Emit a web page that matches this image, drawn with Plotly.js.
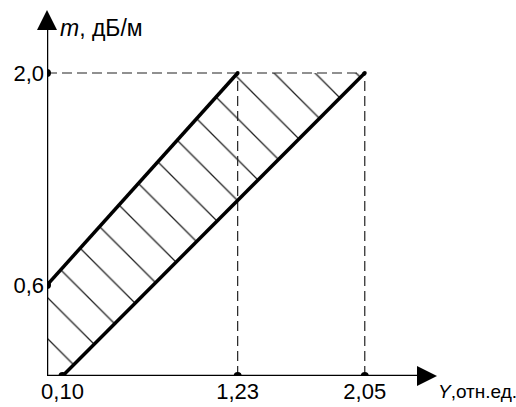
<!DOCTYPE html>
<html>
<head>
<meta charset="utf-8">
<script src="https://cdn.plot.ly/plotly-3.0.1.min.js"></script>
<style>html,body{margin:0;padding:0;background:#fff;}#chart{width:516px;height:407px;}</style>
</head>
<body>
<div id="chart"></div>
<script>
// Values
const xTickVals = [0.10, 1.23, 2.05];
const xTickText = ['0,10', '1,23', '2,05'];
const yTickVals = [0.6, 2.0];
const yTickText = ['0,6', '2,0'];

// Upper boundary: from (0, 0.6) to (1.23, 2.0)
const upperX = [0, 1.23];
const upperY = [0.6, 2.0];
// Lower boundary: from (0.10, 0) to (2.05, 2.0)
const lowerX = [0.10, 2.05];
const lowerY = [0, 2.0];

// Hatched region polygon
const regionX = [0, 0, 1.23, 2.05, 0.10, 0];
const regionY = [0, 0.6, 2.0, 2.0, 0, 0];

// Points marked on the axes
const axisPtsX = [0, 0, 0.10, 1.23, 2.05];
const axisPtsY = [0.6, 2.0, 0, 0, 0];
const cornerPtsX = [1.23, 2.05];
const cornerPtsY = [2.0, 2.0];

const xMax = 2.516, yMax = 2.416;
const font = 'Liberation Sans, Arial, sans-serif';
const fs = 22;

const traces = [
  {x: regionX, y: regionY, mode: 'lines', fill: 'toself', line: {width: 0, color: 'rgba(0,0,0,0)'},
   fillcolor: 'rgba(0,0,0,0)',
   fillpattern: {shape: '\\', fgcolor: '#222', bgcolor: 'rgba(0,0,0,0)', size: 29, solidity: 0.045},
   hoverinfo: 'skip'},
  // dashed guides
  {x: [0, lowerX[1]], y: [2.0, 2.0], mode: 'lines', line: {color: '#222', width: 1.2, dash: '10px,5px'}},
  {x: [upperX[1], upperX[1]], y: [0, 2.0], mode: 'lines', line: {color: '#222', width: 1.2, dash: '10px,5px'}},
  {x: [lowerX[1], lowerX[1]], y: [0, 2.0], mode: 'lines', line: {color: '#222', width: 1.2, dash: '10px,5px'}},
  // axes
  {x: [0, xMax - 0.08], y: [0, 0], mode: 'lines', line: {color: '#000', width: 2.5}},
  {x: [0, 0], y: [0, yMax - 0.08], mode: 'lines', line: {color: '#000', width: 2.5}},
  // boundaries
  {x: upperX, y: upperY, mode: 'lines', line: {color: '#000', width: 3.5}},
  {x: lowerX, y: lowerY, mode: 'lines', line: {color: '#000', width: 3.5}},
  // points
  {x: axisPtsX, y: axisPtsY, mode: 'markers', marker: {color: '#000', size: 8}},
  {x: cornerPtsX, y: cornerPtsY, mode: 'markers', marker: {color: '#000', size: 4}}
];

const layout = {
  width: 516, height: 407,
  margin: {l: 47, r: 79, t: 10, b: 31},
  paper_bgcolor: '#fff', plot_bgcolor: '#fff',
  showlegend: false,
  font: {family: font, size: fs, color: '#000'},
  xaxis: {range: [0, xMax], showgrid: false, zeroline: false, showline: false,
          tickmode: 'array', tickvals: xTickVals, ticktext: xTickText, ticks: '',
          tickfont: {family: font, size: fs, color: '#000'}, fixedrange: true},
  yaxis: {range: [0, yMax], showgrid: false, zeroline: false, showline: false,
          tickmode: 'array', tickvals: yTickVals, ticktext: yTickText, ticks: '',
          ticklabelstandoff: 2,
          tickfont: {family: font, size: fs, color: '#000'}, fixedrange: true},
  annotations: [
    {x: xMax, y: 0, ax: xMax - 0.13, ay: 0, xref: 'x', yref: 'y', axref: 'x', ayref: 'y',
     text: '', showarrow: true, arrowhead: 2, arrowsize: 1.6, arrowwidth: 2.5, arrowcolor: '#000', standoff: 0},
    {x: 0, y: yMax, ax: 0, ay: yMax - 0.13, xref: 'x', yref: 'y', axref: 'x', ayref: 'y',
     text: '', showarrow: true, arrowhead: 2, arrowsize: 1.6, arrowwidth: 2.5, arrowcolor: '#000', standoff: 0},
    {x: 0, y: 0, xref: 'paper', yref: 'paper', text: '<i>m</i>, дБ/м', showarrow: false,
     xanchor: 'left', yanchor: 'middle', font: {family: font, size: 23, color: '#000'}},
    {x: 0, y: 0, xref: 'paper', yref: 'paper', text: '<i>Y</i>,отн.ед.', showarrow: false,
     xanchor: 'left', yanchor: 'middle', font: {family: font, size: 19, color: '#000'}}
  ]
};
// paper positions for the axis name labels (from pixel positions in the picture)
layout.annotations[2].x = (58 - 47) / 390; layout.annotations[2].y = (376 - 28) / 366;
layout.annotations[3].x = (436 - 47) / 390; layout.annotations[3].y = (376 - 391) / 366;

Plotly.newPlot('chart', traces, layout, {displayModeBar: false, staticPlot: true});
</script>
</body>
</html>
